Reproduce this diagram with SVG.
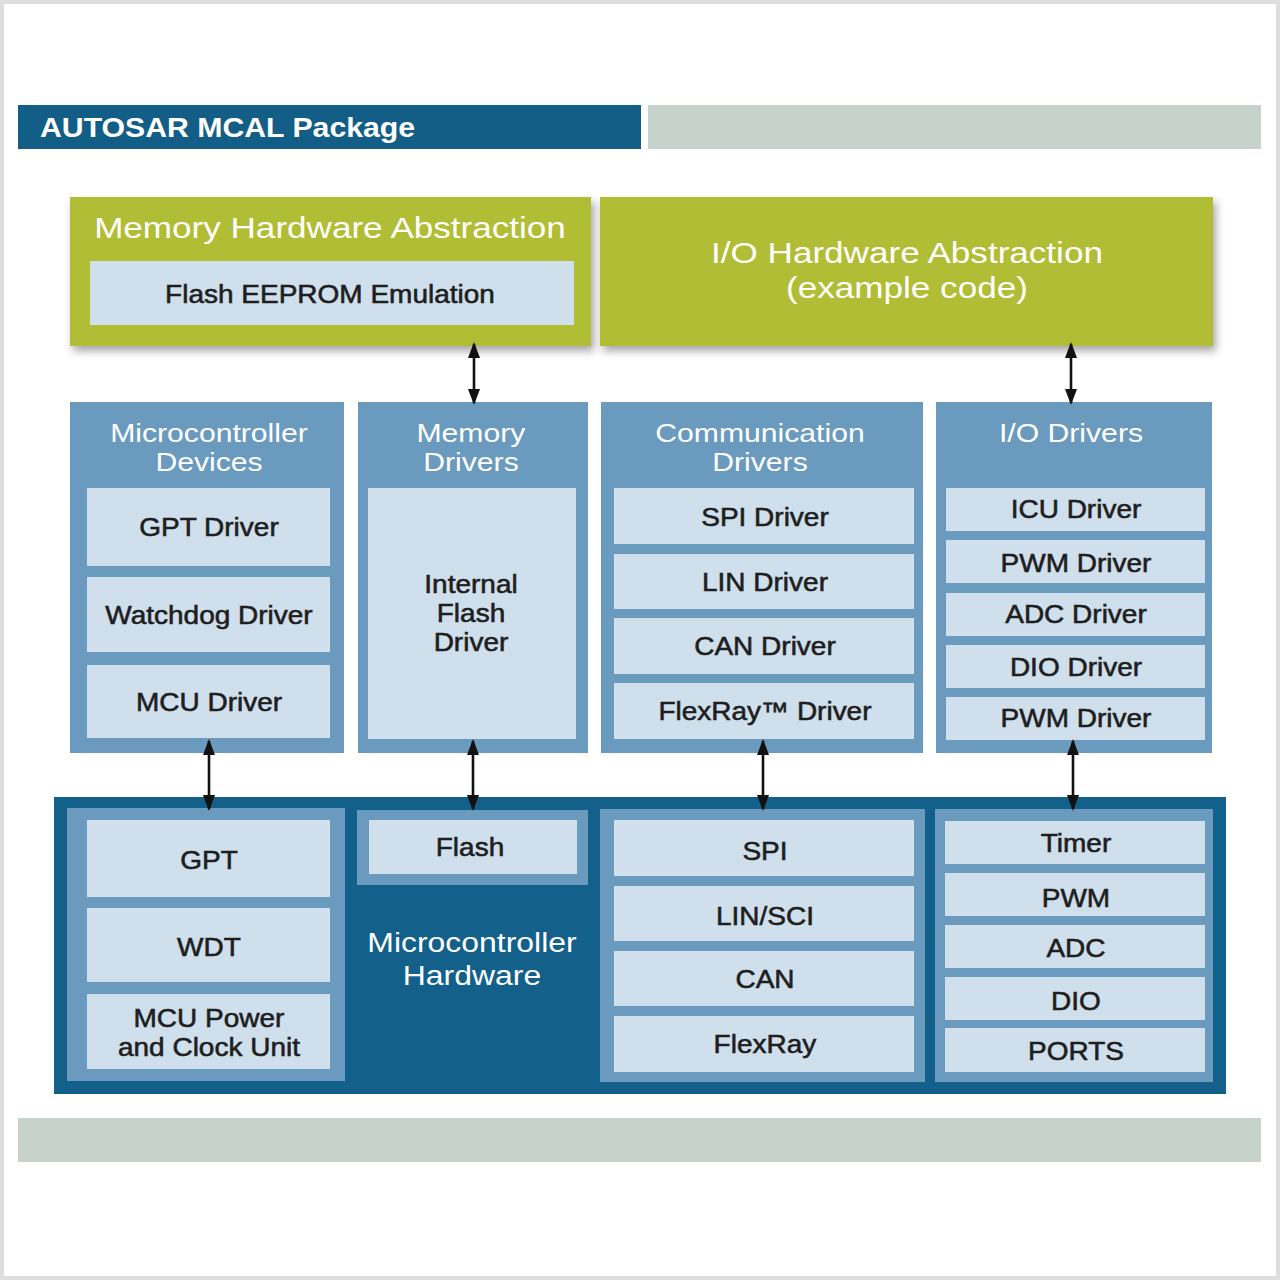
<svg xmlns="http://www.w3.org/2000/svg" width="1280" height="1280" viewBox="0 0 1280 1280">
<style>
text{font-family:"Liberation Sans",Arial,Helvetica,sans-serif;text-anchor:middle;transform-box:fill-box;transform-origin:center}
.h{font-size:28px;font-weight:bold;fill:#fff;text-anchor:start;transform-origin:left center;transform:scaleX(1.08)}
.gt{font-size:30px;fill:#fff;transform:scaleX(1.17)}
.bt{font-size:26px;fill:#fff;transform:scaleX(1.16)}
.bt2{font-size:28px;fill:#fff;transform:scaleX(1.14)}
.t{font-size:25px;fill:#1e1e1e;stroke:#1e1e1e;stroke-width:0.55px;transform:scaleX(1.12)}
.green{fill:#b0bd35}
.mid{fill:#6a9abd}
.light{fill:#cfdfec}
.dark{fill:#13608a}
.grey{fill:#c7d2cd}
.conn line{stroke:#111;stroke-width:2.6;marker-start:url(#ah);marker-end:url(#ah)}
</style>
<defs>
<marker id="ah" viewBox="0 0 16 12" refX="14" refY="6" markerWidth="16" markerHeight="12" markerUnits="userSpaceOnUse" orient="auto-start-reverse">
<path d="M0,0 L16,6 L0,12 z" fill="#111"/>
</marker>
<filter id="sh" x="-5%" y="-10%" width="115%" height="130%">
<feDropShadow dx="3" dy="5" stdDeviation="4" flood-color="#000" flood-opacity="0.35"/>
</filter>
</defs>
<rect x="2" y="2" width="1276" height="1276" fill="#fff" stroke="#dedede" stroke-width="4"/>

<g id="header">
<rect x="18" y="105" width="623" height="44" fill="#125e86"/>
<text class="h" x="40" y="137">AUTOSAR MCAL Package</text>
<rect class="grey" x="648" y="105" width="613" height="44"/>
</g>
<g id="footer"><rect class="grey" x="18" y="1118" width="1243" height="44"/></g>

<g id="memory-hw-abstraction">
<rect class="green" x="70" y="197" width="521" height="149" filter="url(#sh)"/>
<text class="gt" x="330" y="238">Memory Hardware Abstraction</text>
<rect class="light" x="90" y="261" width="484" height="64"/>
<text class="t" x="330" y="303">Flash EEPROM Emulation</text>
</g>

<g id="io-hw-abstraction">
<rect class="green" x="600" y="197" width="613" height="149" filter="url(#sh)"/>
<text class="gt" x="907" y="263">I/O Hardware Abstraction</text>
<text class="gt" x="907" y="298">(example code)</text>
</g>

<g id="microcontroller-devices">
<rect class="mid" x="70" y="402" width="274" height="351"/>
<text class="bt" x="209" y="442">Microcontroller</text>
<text class="bt" x="209" y="471">Devices</text>
<rect class="light" x="87" y="488" width="243" height="78"/>
<text class="t" x="209" y="536">GPT Driver</text>
<rect class="light" x="87" y="577" width="243" height="75"/>
<text class="t" x="209" y="624">Watchdog Driver</text>
<rect class="light" x="87" y="665" width="243" height="73"/>
<text class="t" x="209" y="711">MCU Driver</text>
</g>

<g id="memory-drivers">
<rect class="mid" x="358" y="402" width="230" height="351"/>
<text class="bt" x="471" y="442">Memory</text>
<text class="bt" x="471" y="471">Drivers</text>
<rect class="light" x="368" y="488" width="208" height="251"/>
<text class="t" x="471" y="593">Internal</text>
<text class="t" x="471" y="622">Flash</text>
<text class="t" x="471" y="651">Driver</text>
</g>

<g id="communication-drivers">
<rect class="mid" x="601" y="402" width="322" height="351"/>
<text class="bt" x="760" y="442">Communication</text>
<text class="bt" x="760" y="471">Drivers</text>
<rect class="light" x="614" y="488" width="300" height="56"/>
<text class="t" x="765" y="526">SPI Driver</text>
<rect class="light" x="614" y="554" width="300" height="55"/>
<text class="t" x="765" y="591">LIN Driver</text>
<rect class="light" x="614" y="618" width="300" height="56"/>
<text class="t" x="765" y="655">CAN Driver</text>
<rect class="light" x="614" y="683" width="300" height="56"/>
<text class="t" x="765" y="720">FlexRay™ Driver</text>
</g>

<g id="io-drivers">
<rect class="mid" x="936" y="402" width="276" height="351"/>
<text class="bt" x="1071" y="442">I/O Drivers</text>
<rect class="light" x="946" y="488" width="259" height="43"/>
<text class="t" x="1076" y="518">ICU Driver</text>
<rect class="light" x="946" y="540" width="259" height="43"/>
<text class="t" x="1076" y="572">PWM Driver</text>
<rect class="light" x="946" y="593" width="259" height="43"/>
<text class="t" x="1076" y="623">ADC Driver</text>
<rect class="light" x="946" y="645" width="259" height="43"/>
<text class="t" x="1076" y="676">DIO Driver</text>
<rect class="light" x="946" y="697" width="259" height="43"/>
<text class="t" x="1076" y="727">PWM Driver</text>
</g>

<g id="microcontroller-hardware">
<rect class="dark" x="54" y="797" width="1172" height="297"/>
<text class="bt2" x="472" y="952">Microcontroller</text>
<text class="bt2" x="472" y="985">Hardware</text>
</g>

<g id="hw-mcu">
<rect class="mid" x="67" y="808" width="278" height="273"/>
<rect class="light" x="87" y="820" width="243" height="77"/>
<text class="t" x="209" y="869">GPT</text>
<rect class="light" x="87" y="908" width="243" height="74"/>
<text class="t" x="209" y="956">WDT</text>
<rect class="light" x="87" y="994" width="243" height="75"/>
<text class="t" x="209" y="1027">MCU Power</text>
<text class="t" x="209" y="1056">and Clock Unit</text>
</g>

<g id="hw-flash">
<rect class="mid" x="357" y="810" width="231" height="75"/>
<rect class="light" x="369" y="820" width="208" height="54"/>
<text class="t" x="470" y="856">Flash</text>
</g>

<g id="hw-comm">
<rect class="mid" x="600" y="809" width="325" height="273"/>
<rect class="light" x="614" y="820" width="300" height="56"/>
<text class="t" x="765" y="860">SPI</text>
<rect class="light" x="614" y="886" width="300" height="55"/>
<text class="t" x="765" y="925">LIN/SCI</text>
<rect class="light" x="614" y="951" width="300" height="55"/>
<text class="t" x="765" y="988">CAN</text>
<rect class="light" x="614" y="1016" width="300" height="56"/>
<text class="t" x="765" y="1053">FlexRay</text>
</g>

<g id="hw-io">
<rect class="mid" x="935" y="809" width="278" height="273"/>
<rect class="light" x="945" y="821" width="260" height="43"/>
<text class="t" x="1076" y="852">Timer</text>
<rect class="light" x="945" y="873" width="260" height="43"/>
<text class="t" x="1076" y="907">PWM</text>
<rect class="light" x="945" y="925" width="260" height="43"/>
<text class="t" x="1076" y="957">ADC</text>
<rect class="light" x="945" y="977" width="260" height="43"/>
<text class="t" x="1076" y="1010">DIO</text>
<rect class="light" x="945" y="1028" width="260" height="44"/>
<text class="t" x="1076" y="1060">PORTS</text>
</g>

<g id="connectors" class="conn">
<line x1="474" y1="344" x2="474" y2="403"/>
<line x1="1071" y1="344" x2="1071" y2="403"/>
<line x1="209" y1="741" x2="209" y2="809"/>
<line x1="473" y1="741" x2="473" y2="809"/>
<line x1="763" y1="741" x2="763" y2="809"/>
<line x1="1073" y1="741" x2="1073" y2="809"/>
</g>
</svg>
